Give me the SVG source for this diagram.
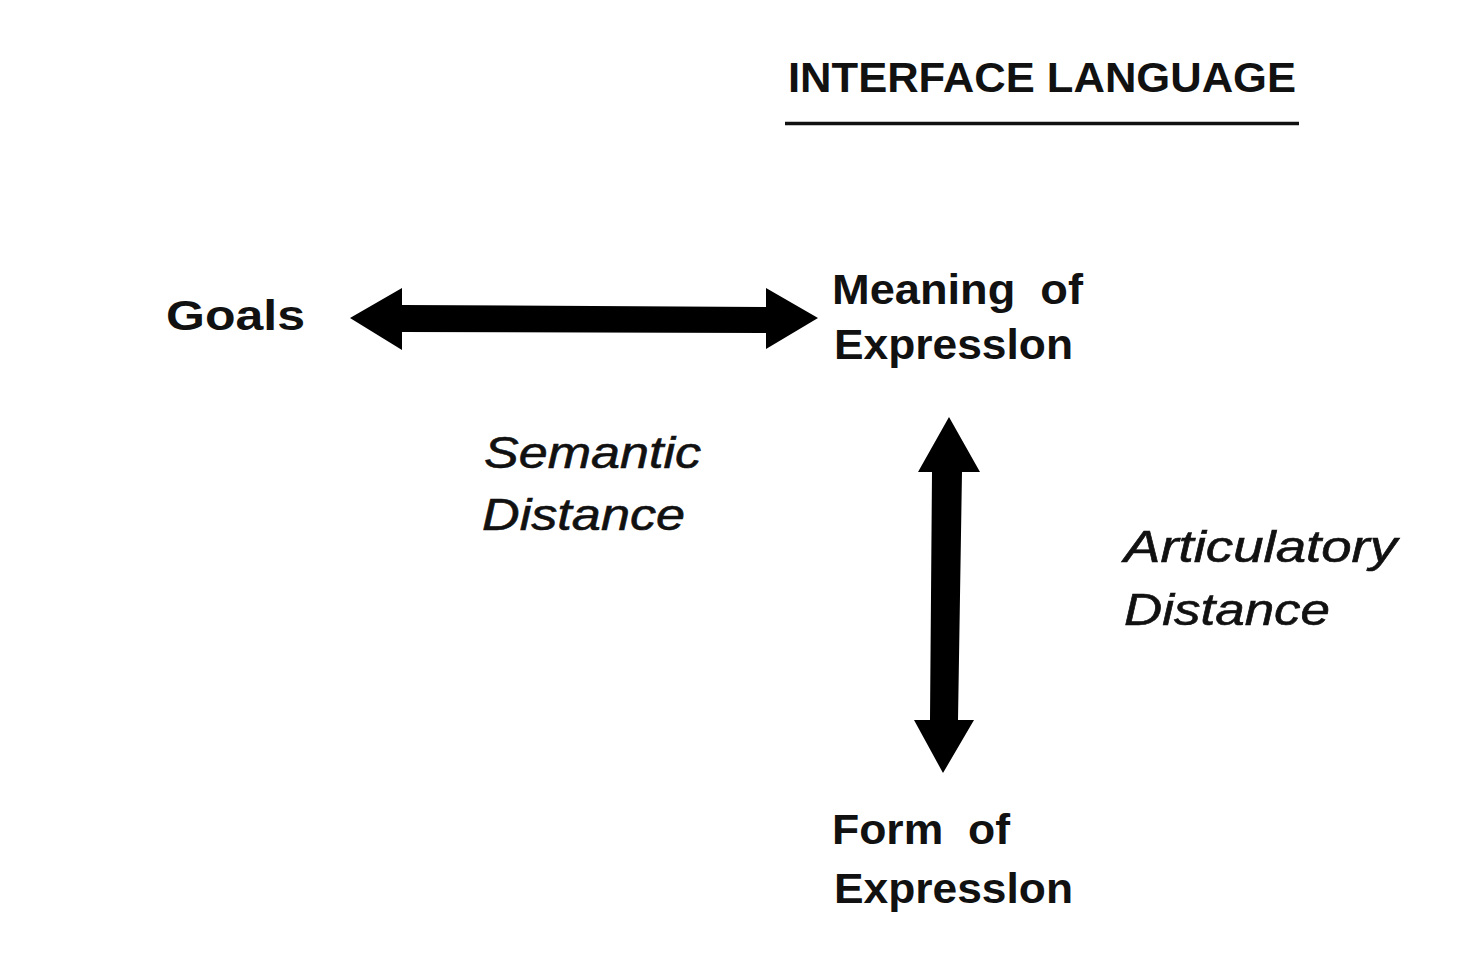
<svg xmlns="http://www.w3.org/2000/svg" width="1458" height="968" viewBox="0 0 1458 968">
  <style>
    .bold { font-family: "Liberation Sans", Arial, sans-serif; font-weight: bold; fill: #111; }
    .ital { font-family: "Liberation Sans", Arial, sans-serif; font-style: italic; fill: #111; stroke: #111; stroke-width: 0.6; }
    .arrow { fill: #000; }
  </style>
  <rect width="1458" height="968" fill="#fff"/>

  <g id="header">
    <text class="bold" x="788" y="92" font-size="43" textLength="508" lengthAdjust="spacingAndGlyphs">INTERFACE LANGUAGE</text>
    <line x1="785" y1="123.5" x2="1299" y2="123.5" stroke="#111" stroke-width="3.5"/>
  </g>

  <g id="goals">
    <text class="bold" x="166" y="330" font-size="43" textLength="139" lengthAdjust="spacingAndGlyphs">Goals</text>
  </g>

  <g id="meaning">
    <text class="bold" x="832" y="304" font-size="42" textLength="251" lengthAdjust="spacingAndGlyphs" xml:space="preserve">Meaning  of</text>
    <text class="bold" x="834" y="359" font-size="42" textLength="239" lengthAdjust="spacingAndGlyphs">Expresslon</text>
  </g>

  <g id="form">
    <text class="bold" x="832" y="844" font-size="42" textLength="178" lengthAdjust="spacingAndGlyphs" xml:space="preserve">Form  of</text>
    <text class="bold" x="834" y="903" font-size="42" textLength="239" lengthAdjust="spacingAndGlyphs">Expresslon</text>
  </g>

  <g id="connectors">
    <!-- semantic distance: goals <-> meaning -->
    <polygon class="arrow" points="350,318 402,288 402,305 766,307 766,288 818,318 766,349 766,333 402,332 402,350"/>
    <!-- articulatory distance: meaning <-> form -->
    <polygon class="arrow" points="949,417 980,472 962,472 958,720 974,720 943,773 914,720 930,720 932,472 918,472"/>
  </g>

  <g id="labels">
    <text class="ital" x="484" y="468" font-size="44" textLength="217" lengthAdjust="spacingAndGlyphs">Semantic</text>
    <text class="ital" x="482" y="530" font-size="44" textLength="203" lengthAdjust="spacingAndGlyphs">Distance</text>
    <text class="ital" x="1124" y="562" font-size="44" textLength="273" lengthAdjust="spacingAndGlyphs">Articulatory</text>
    <text class="ital" x="1124" y="625" font-size="44" textLength="206" lengthAdjust="spacingAndGlyphs">Distance</text>
  </g>
</svg>
